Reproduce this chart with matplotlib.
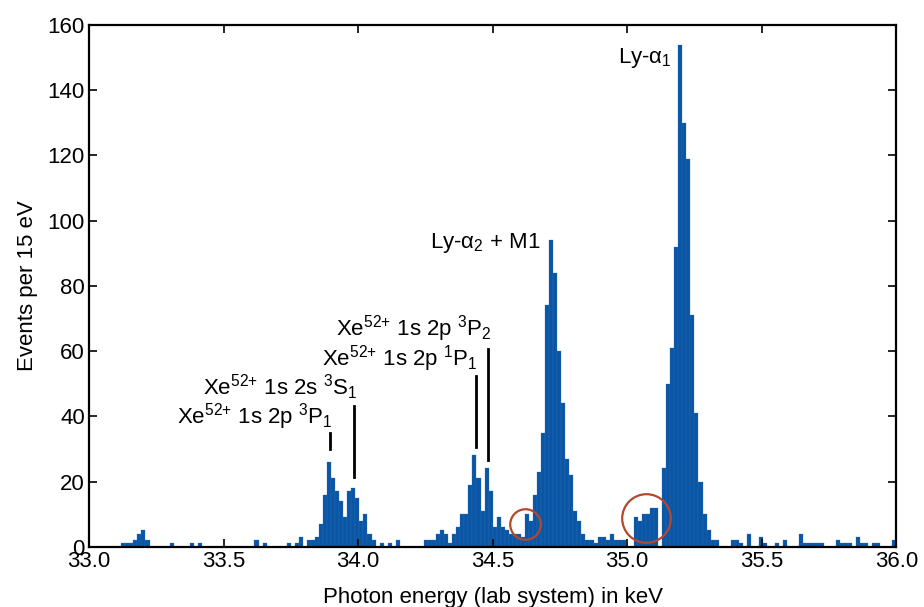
import numpy as np
import matplotlib
matplotlib.use('Agg')
import matplotlib.pyplot as plt

plt.rcParams['font.family'] = ['Liberation Sans', 'DejaVu Sans']
plt.rcParams['mathtext.fontset'] = 'custom'
plt.rcParams['mathtext.rm'] = 'Liberation Sans'
plt.rcParams['mathtext.it'] = 'Liberation Sans:italic'
plt.rcParams['mathtext.bf'] = 'Liberation Sans:bold'

# histogram: 15 eV bins from 33.0 keV
e_start = 33.0
bin_width = 0.015
counts = [
    0, 0, 0, 0, 0, 0, 0, 0, 1, 1,          # 33.000
    1, 2, 4, 5, 2, 0, 0, 0, 0, 0,          # 33.150
    1, 0, 0, 0, 0, 1, 0, 1, 0, 0,          # 33.300
    0, 0, 0, 0, 0, 0, 0, 0, 0, 0,          # 33.450
    0, 2, 0, 1, 0, 0, 0, 0, 0, 1,          # 33.600
    0, 1, 3, 0, 2, 2, 3, 7, 16, 26,        # 33.750
    21, 17, 14, 9, 17, 18, 15, 8, 10, 4,   # 33.900
    2, 0, 1, 0, 1, 0, 2, 0, 0, 0,          # 34.050
    0, 0, 0, 2, 2, 2, 4, 5, 4, 1,          # 34.200
    4, 6, 10, 10, 19, 28, 21, 11, 24, 17,  # 34.350
    6, 9, 6, 5, 4, 4, 4, 3, 10, 8,         # 34.500
    16, 23, 35, 74, 94, 84, 60, 44, 27, 22, # 34.650
    11, 8, 4, 2, 2, 1, 3, 3, 2, 4,         # 34.800
    2, 2, 2, 0, 0, 9, 8, 10, 10, 12,       # 34.950
    12, 0, 24, 50, 61, 92, 154, 130, 119, 71, # 35.100
    41, 20, 10, 5, 2, 2, 0, 0, 0, 2,       # 35.250
    2, 1, 0, 4, 0, 0, 3, 1, 0, 0,          # 35.400
    1, 0, 2, 0, 0, 0, 4, 1, 1, 1,          # 35.550
    1, 1, 0, 0, 0, 2, 1, 1, 1, 0,          # 35.700
    3, 1, 1, 0, 1, 1, 0, 0, 0, 2,          # 35.850
]
edges = e_start + bin_width * np.arange(len(counts))

# line labels: (text, right end x, baseline y, marker x, marker y0, marker y1)
line_labels = [
    (r'Xe$^{52{+}}$ 1s 2p $^{3}$P$_{1}$', 33.906, 37.9, 33.895, 34.8, 29.9),
    (r'Xe$^{52{+}}$ 1s 2s $^{3}$S$_{1}$', 33.996, 46.5, 33.984, 43.1, 21.3),
    (r'Xe$^{52{+}}$ 1s 2p $^{1}$P$_{1}$', 34.445, 55.7, 34.438, 52.3, 30.5),
    (r'Xe$^{52{+}}$ 1s 2p $^{3}$P$_{2}$', 34.497, 64.9, 34.484, 60.6, 26.6),
]
ly_labels = [
    (r'Ly-α$_{2}$ + M1', 34.679, 91.5),
    (r'Ly-α$_{1}$', 35.166, 148.5),
]
# circled features: (x, y, marker size in pt)
circles = [(34.622, 7.0, 22), (35.069, 8.7, 35)]

fig = plt.figure(figsize=(9.24, 6.07), dpi=100)
ax = fig.add_axes([0.0963, 0.0993, 0.8737, 0.8595])

ax.bar(edges, counts, width=bin_width, align='edge', color='#0a56a5',
       edgecolor='#2f6fba', linewidth=0.2)

for txt, xr, yb, xl, y0, y1 in line_labels:
    ax.text(xr, yb, txt, ha='right', va='baseline', fontsize=16)
    ax.plot([xl, xl], [y0, y1], color='black', lw=2)
for txt, xr, yb in ly_labels:
    ax.text(xr, yb, txt, ha='right', va='baseline', fontsize=16)
for cx, cy, ms in circles:
    ax.plot(cx, cy, 'o', ms=ms, mfc='none', mec='#b5472d', mew=1.6)

ax.set_xlim(33.0, 36.0)
ax.set_ylim(0, 160)
ax.set_xticks(np.arange(33.0, 36.01, 0.5))
ax.set_xticklabels(['%.1f' % v for v in np.arange(33.0, 36.01, 0.5)])
ax.set_yticks(np.arange(0, 161, 20))
ax.tick_params(direction='in', length=6, width=1.2, labelsize=16,
               top=True, right=True, pad=3)
for s in ax.spines.values():
    s.set_linewidth(1.6)
ax.set_xlabel('Photon energy (lab system) in keV', fontsize=16, labelpad=11)
ax.set_ylabel('Events per 15 eV', fontsize=16, labelpad=7)

fig.savefig('out.png', dpi=100)
